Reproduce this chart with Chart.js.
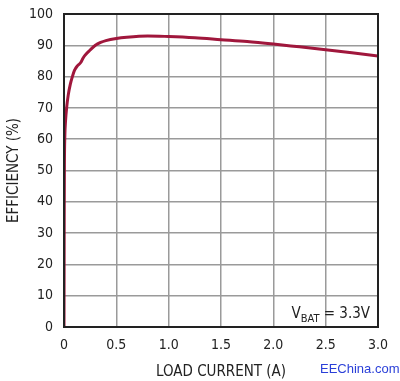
<!DOCTYPE html>
<html>
<head>
<meta charset="utf-8">
<script src="https://cdn.jsdelivr.net/npm/chart.js@4.4.0/dist/chart.umd.min.js"></script>
<style>
  html, body { margin: 0; padding: 0; background: #fff; }
  #wrap { position: relative; width: 400px; height: 381px; }
  #wm { position: absolute; left: 320px; top: 361px; font-family: "Liberation Sans", Arial, sans-serif; font-size: 13px; color: #2a3fd8; }
</style>
</head>
<body>
<div id="wrap">
  <canvas id="c" width="400" height="381"></canvas>
  <div id="wm">EEChina.com</div>
</div>
<script>
const loadCurrent = [0, 0.002, 0.004, 0.008, 0.015, 0.025, 0.04, 0.06, 0.08, 0.1, 0.13, 0.16, 0.18, 0.2, 0.25, 0.3, 0.35, 0.4, 0.5, 0.6, 0.8, 1.0, 1.25, 1.5, 1.75, 2.0, 2.25, 2.5, 2.75, 3.0];
const efficiency  = [0, 35, 52, 61, 66, 70, 74, 77.5, 80, 82, 83.5, 84.5, 85.8, 86.8, 88.5, 90, 90.9, 91.5, 92.2, 92.6, 93.0, 92.8, 92.4, 91.8, 91.2, 90.4, 89.5, 88.6, 87.6, 86.6];
const xTicks = [0, 0.5, 1.0, 1.5, 2.0, 2.5, 3.0];
const yTicks = [0, 10, 20, 30, 40, 50, 60, 70, 80, 90, 100];

const FONT = '"DejaVu Sans Condensed", "Liberation Sans", Arial, sans-serif';

const vbatPlugin = {
  id: 'vbat',
  afterDraw(chart) {
    const ctx = chart.ctx;
    const a = chart.chartArea;
    ctx.save();
    ctx.fillStyle = '#222';
    ctx.textBaseline = 'alphabetic';
    const main = '15px ' + FONT, sub = '11px ' + FONT;
    ctx.font = main;
    const wV = ctx.measureText('V').width;
    const wRest = ctx.measureText(' = 3.3V').width;
    ctx.font = sub;
    const wSub = ctx.measureText('BAT').width;
    let x = a.right - 8 - (wV + wSub + wRest);
    const y = a.bottom - 9;
    ctx.font = main; ctx.fillText('V', x, y); x += wV;
    ctx.font = sub; ctx.fillText('BAT', x, y + 4); x += wSub;
    ctx.font = main; ctx.fillText(' = 3.3V', x, y);
    ctx.restore();
  }
};

function zeroPad(s) { s.paddingTop = 0; s.paddingBottom = 0; s.paddingLeft = 0; s.paddingRight = 0; }

new Chart(document.getElementById('c'), {
  type: 'line',
  data: {
    datasets: [{
      data: loadCurrent.map((x, i) => ({ x: x, y: efficiency[i] })),
      borderColor: '#a0173c',
      borderWidth: 3,
      pointRadius: 0,
      cubicInterpolationMode: 'monotone',
      fill: false
    }]
  },
  options: {
    responsive: false,
    animation: false,
    layout: { padding: { left: 5, right: 22, top: 14, bottom: 0 } },
    plugins: { legend: { display: false }, tooltip: { enabled: false } },
    scales: {
      x: {
        type: 'linear', min: 0, max: 3,
        afterBuildTicks(s) { s.ticks = xTicks.map(v => ({ value: v })); },
        afterFit(s) { s.height = 54; zeroPad(s); },
        ticks: {
          font: { family: FONT, size: 14 }, color: '#222', padding: 10,
          callback: v => v === 0 ? '0' : v.toFixed(1)
        },
        grid: { color: '#9a9a9a', lineWidth: 1.5, drawTicks: false },
        border: { color: '#222', width: 2 },
        title: { display: true, text: 'LOAD CURRENT (A)', font: { family: FONT, size: 15 }, color: '#222', padding: { top: 4, bottom: 0 } }
      },
      y: {
        min: 0, max: 100,
        afterBuildTicks(s) { s.ticks = yTicks.map(v => ({ value: v })); },
        afterFit(s) { s.width = 59; zeroPad(s); },
        ticks: { font: { family: FONT, size: 14 }, color: '#222', padding: 11 },
        grid: { color: '#9a9a9a', lineWidth: 1.5, drawTicks: false },
        border: { color: '#222', width: 2 },
        title: { display: true, text: 'EFFICIENCY (%)', font: { family: FONT, size: 15 }, color: '#222', padding: { top: 0, bottom: 4 } }
      }
    }
  },
  plugins: [vbatPlugin, {
    id: 'frame',
    afterDraw(chart) {
      const a = chart.chartArea, ctx = chart.ctx;
      ctx.save(); ctx.strokeStyle = '#222'; ctx.lineWidth = 2;
      ctx.strokeRect(a.left, a.top, a.right - a.left, a.bottom - a.top);
      ctx.restore();
    }
  }]
});
</script>
</body>
</html>
